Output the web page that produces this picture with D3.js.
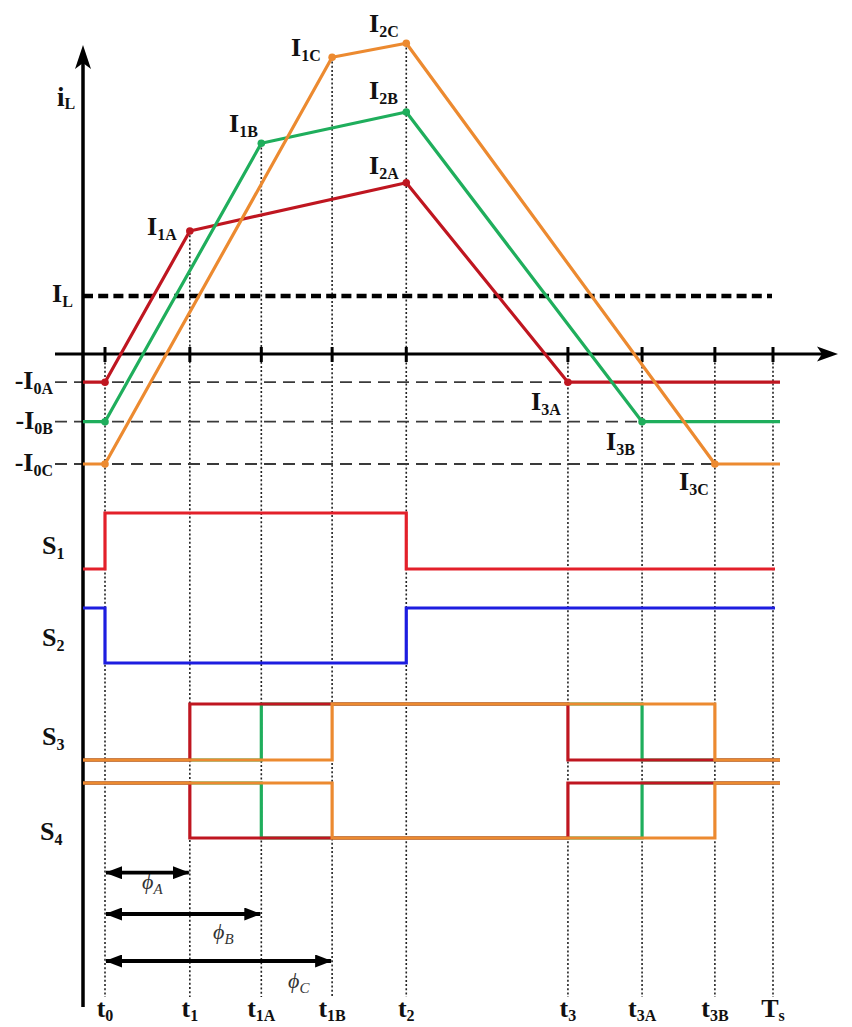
<!DOCTYPE html>
<html>
<head>
<meta charset="utf-8">
<script src="https://cdn.jsdelivr.net/npm/d3@7"></script>
<style>
  html, body { margin: 0; padding: 0; background: #fff; }
  svg { display: block; }
  text { font-family: "Liberation Serif", "Times New Roman", serif; }
</style>
</head>
<body>
<svg id="chart" width="852" height="1027"></svg>
<script>
// ---- Switching instants (period Ts normalised to 10) ----
const tickNames = ["t", "t", "t", "t", "t", "t", "t", "t", "T"];
const tickSubs  = ["0", "1", "1A", "1B", "2", "3", "3A", "3B", "s"];
const tickTimes = [0, 1.27, 2.34, 3.40, 4.51, 6.93, 8.04, 9.13, 10];

// ---- Inductor current levels for the three operating cases A, B, C ----
const cases  = ["A", "B", "C"];
const caseI0 = [2.82, 6.77, 11.0];     // initial current magnitudes (-I0x)
const caseI1 = [12.3, 21.07, 29.67];   // current at end of the rising interval
const caseI2 = [17.13, 24.2, 31.07];   // peak current at t2
const caseT1 = [1.27, 2.34, 3.40];     // t1, t1A, t1B
const caseT3 = [6.93, 8.04, 9.13];     // t3, t3A, t3B
const avgIL  = 5.8;                    // average inductor current IL

// ---- Gate signals: edge times and initial state ----
const s1Edges = [0, 4.51];  const s1Init = 0;
const s2Edges = [0, 4.51];  const s2Init = 1;
const s3Edges = [[1.27, 6.93], [2.34, 8.04], [3.40, 9.13]];  // A, B, C
const s4Edges = [[1.27, 6.93], [2.34, 8.04], [3.40, 9.13]];
const s3Init = 0, s4Init = 1;

// ---- Phase shifts ----
const phiSubs = ["A", "B", "C"];
const phiEnd  = [1.27, 2.34, 3.40];

// ---- Styling ----
const caseColors = ["#bf1620", "#1fae5c", "#ec8a30"];
const s1Color = "#e3202a", s2Color = "#1d1de0";

const svg = d3.select("#chart");

const x = d3.scaleLinear().domain([0, 10]).range([105, 773]);
const y = d3.scaleLinear().domain([0, 30]).range([354, 54]);

const axisX = 83;
const tAxis = x.invert(axisX);
const tEndI = x.invert(780);
const tEndS12 = x.invert(775);

// arrowhead marker for the phase-shift spans
const defs = svg.append("defs");
defs.append("marker")
  .attr("id", "ah").attr("viewBox", "0 0 17 13")
  .attr("refX", 16).attr("refY", 6.5)
  .attr("markerWidth", 17).attr("markerHeight", 13)
  .attr("markerUnits", "userSpaceOnUse")
  .attr("orient", "auto-start-reverse")
  .append("path").attr("d", "M0,0 L17,6.5 L0,13 Z").attr("fill", "#000");

function label(g, px, py, main, sub, o = {}) {
  const t = g.append("text")
    .attr("x", px).attr("y", py)
    .attr("font-size", o.size || 26)
    .attr("font-weight", o.weight || "bold")
    .attr("font-style", o.style || "normal")
    .attr("fill", o.fill || "#111")
    .attr("text-anchor", o.anchor || "start");
  t.append("tspan").text(main);
  t.append("tspan").attr("dy", o.subDy || 5)
    .attr("font-size", o.subSize || 16).text(sub);
  return t;
}

// ---- Dotted time markers ----
const dotTop = [354, y(caseI1[0]), y(caseI1[1]), y(caseI1[2]), y(caseI2[2]), 354, 354, 354, 354];
svg.append("g").selectAll("line").data(tickTimes).join("line")
  .attr("x1", d => x(d)).attr("x2", d => x(d))
  .attr("y1", (d, i) => dotTop[i]).attr("y2", 997)
  .attr("stroke", "#222").attr("stroke-width", 1.6)
  .attr("stroke-dasharray", "2,2.2");

// ---- Reference levels -I0x ----
svg.append("g").selectAll("line").data(caseI0).join("line")
  .attr("x1", 55).attr("x2", 780)
  .attr("y1", d => y(-d)).attr("y2", d => y(-d))
  .attr("stroke", "#3a3a3a").attr("stroke-width", 1.8)
  .attr("stroke-dasharray", "12,7");

// average current IL
svg.append("line")
  .attr("x1", axisX).attr("x2", 772)
  .attr("y1", y(avgIL)).attr("y2", y(avgIL))
  .attr("stroke", "#000").attr("stroke-width", 4.5)
  .attr("stroke-dasharray", "10,5.2");

// ---- Axes ----
svg.append("line").attr("x1", 55).attr("x2", 822).attr("y1", y(0)).attr("y2", y(0))
  .attr("stroke", "#000").attr("stroke-width", 3);
svg.append("path").attr("d", `M838,${y(0)} L817,${y(0) - 7.5} L822,${y(0)} L817,${y(0) + 7.5} Z`)
  .attr("fill", "#000");
svg.append("line").attr("x1", axisX).attr("x2", axisX).attr("y1", 62).attr("y2", 1007)
  .attr("stroke", "#000").attr("stroke-width", 3.5);
svg.append("path").attr("d", `M${axisX},45 L${axisX - 8},69 L${axisX},63 L${axisX + 8},69 Z`)
  .attr("fill", "#000");
// ticks on the time axis
svg.append("g").selectAll("line").data(tickTimes).join("line")
  .attr("x1", d => x(d)).attr("x2", d => x(d))
  .attr("y1", y(0) - 7).attr("y2", y(0) + 8)
  .attr("stroke", "#000").attr("stroke-width", 3);

// ---- Inductor current waveforms ----
const line = d3.line().x(d => x(d[0])).y(d => y(d[1]));
cases.forEach((c, i) => {
  const pts = [
    [tAxis, -caseI0[i]], [0, -caseI0[i]], [caseT1[i], caseI1[i]],
    [4.51, caseI2[i]], [caseT3[i], -caseI0[i]], [tEndI, -caseI0[i]]
  ];
  svg.append("path").datum(pts).attr("d", line)
    .attr("fill", "none").attr("stroke", caseColors[i])
    .attr("stroke-width", 3.2).attr("stroke-linejoin", "round");
  svg.append("g").selectAll("circle").data(pts.slice(1, 5)).join("circle")
    .attr("cx", d => x(d[0])).attr("cy", d => y(d[1])).attr("r", 3.8)
    .attr("fill", caseColors[i]);
});

// ---- Current labels ----
const tg = svg.append("g");
label(tg, 57, 106, "i", "L", { size: 27, subDy: 3 });
label(tg, 52, 302, "I", "L", { size: 26, subDy: 0 });
cases.forEach((c, i) => {
  label(tg, 53, y(-caseI0[i]) + 7, "-I", "0" + c, { anchor: "end" });
});
label(tg, 147, 235, "I", "1A");
label(tg, 229, 132, "I", "1B");
label(tg, 291, 56, "I", "1C");
label(tg, 369, 32, "I", "2C");
label(tg, 369, 99, "I", "2B");
label(tg, 369, 174, "I", "2A");
label(tg, 531, 410, "I", "3A");
label(tg, 606, 450, "I", "3B");
label(tg, 679, 490, "I", "3C");

// ---- Gate signals ----
function stepPts(edges, init, tEnd) {
  const pts = [[tAxis, init]];
  let s = init;
  edges.forEach(e => { pts.push([e, s]); s = 1 - s; pts.push([e, s]); });
  pts.push([tEnd, s]);
  return pts;
}
function lane(lowY, highY) { return d3.scaleLinear().domain([0, 1]).range([lowY, highY]); }
const laneS1 = lane(569, 513), laneS2 = lane(663, 608);
const laneS3 = lane(760, 704), laneS4 = lane(838, 783);

function drawStep(pts, ly, color) {
  const l = d3.line().x(d => x(d[0])).y(d => ly(d[1]));
  svg.append("path").datum(pts).attr("d", l)
    .attr("fill", "none").attr("stroke", color).attr("stroke-width", 3.2)
    .attr("stroke-linejoin", "miter");
}
drawStep(stepPts(s1Edges, s1Init, tEndS12), laneS1, s1Color);
drawStep(stepPts(s2Edges, s2Init, tEndS12), laneS2, s2Color);
// order B, A, C so that the later case is drawn on top
[1, 0, 2].forEach(i => {
  drawStep(stepPts(s3Edges[i], s3Init, tEndI), laneS3, caseColors[i]);
  drawStep(stepPts(s4Edges[i], s4Init, tEndI), laneS4, caseColors[i]);
});

label(tg, 42, 554, "S", "1", { size: 26 });
label(tg, 42, 646, "S", "2", { size: 26 });
label(tg, 42, 745, "S", "3", { size: 26 });
label(tg, 40, 840, "S", "4", { size: 26 });

// ---- Phase-shift spans ----
const phiY = [872.7, 914, 961];
const phiLab = [[142, 889], [213, 939], [288, 988]];
phiEnd.forEach((e, i) => {
  svg.append("line")
    .attr("x1", x(0) + 1).attr("x2", x(e) - 1)
    .attr("y1", phiY[i]).attr("y2", phiY[i])
    .attr("stroke", "#000").attr("stroke-width", 3.8)
    .attr("marker-start", "url(#ah)").attr("marker-end", "url(#ah)");
  label(tg, phiLab[i][0], phiLab[i][1], "\u03D5", phiSubs[i],
    { size: 22, weight: "normal", style: "italic", fill: "#333", subSize: 15, subDy: 5 });
});

// ---- Time labels ----
tickTimes.forEach((t, i) => {
  label(tg, x(t), 1017, tickNames[i], tickSubs[i],
    { anchor: "middle", size: 26, subSize: 16, subDy: 4 });
});
</script>
</body>
</html>
